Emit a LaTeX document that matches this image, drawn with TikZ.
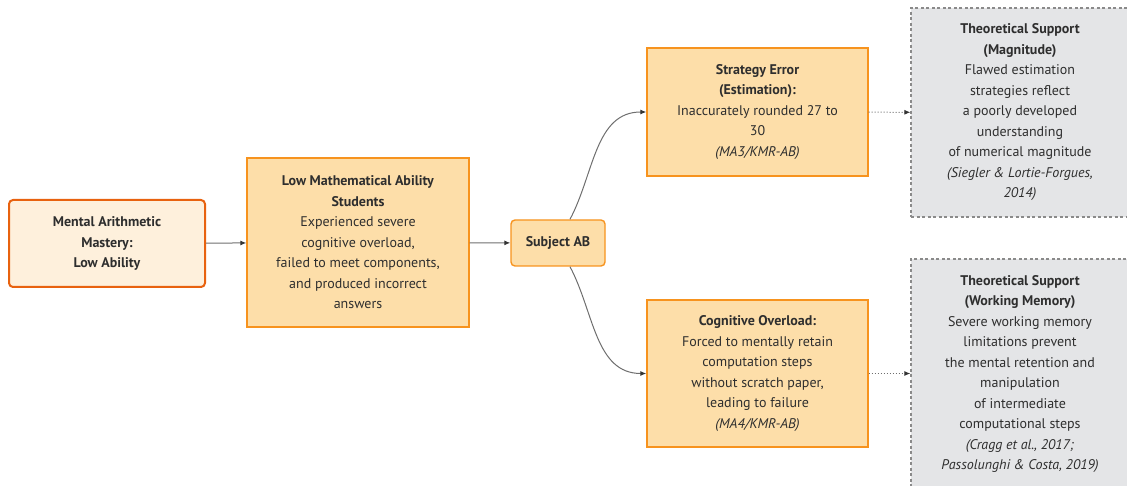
\documentclass[tikz,border=0pt]{standalone}
\usepackage{fontspec}
\setmainfont{PT Sans}
\usetikzlibrary{arrows.meta}
\definecolor{txt}{HTML}{2E2E2E}
\definecolor{rootline}{HTML}{E8620F}
\definecolor{rootfill}{HTML}{FEF0DC}
\definecolor{boxline}{HTML}{F7931E}
\definecolor{boxfill}{HTML}{FDDEA9}
\definecolor{supfill}{HTML}{E4E5E7}
\definecolor{supline}{HTML}{8A8A8A}
\definecolor{edge}{HTML}{6E6E6E}
\definecolor{tipc}{HTML}{333333}
\begin{document}
\begin{tikzpicture}[x=1pt,y=-1pt,
  every node/.style={font=\fontsize{14}{20.5}\selectfont, text=txt, align=center, inner sep=0pt},
  rootbox/.style={draw=rootline, fill=rootfill, line width=2pt, rounded corners=4pt},
  stepbox/.style={draw=boxline, fill=boxfill, line width=1.4pt},
  subjbox/.style={draw=boxline, fill=boxfill, line width=1.4pt, rounded corners=4pt},
  supbox/.style={draw=supline, fill=supfill, line width=1.2pt, dash pattern=on 3pt off 2.5pt},
  link/.style={draw=edge, line width=1pt, -{Latex[length=6pt,width=5pt,color=tipc]}},
  dlink/.style={draw=edge, line width=1pt, dotted, -{Latex[length=6pt,width=5pt,color=tipc]}}
]
\useasboundingbox (0,0) rectangle (1127,486);
\clip (0,0) rectangle (1127,486);

\node[rootbox, minimum width=196pt, minimum height=87pt] (A) at (107,243.5)
  {\textbf{Mental Arithmetic}\\\textbf{Mastery:}\\\textbf{Low Ability}};
\node[stepbox, minimum width=222pt, minimum height=169pt] (B) at (358,242.5)
  {\textbf{Low Mathematical Ability}\\\textbf{Students}\\Experienced severe\\cognitive overload,\\failed to meet components,\\and produced incorrect\\answers};
\node[subjbox, minimum width=94pt, minimum height=46pt] (C) at (558,243)
  {\textbf{Subject AB}};
\node[stepbox, minimum width=221pt, minimum height=128pt] (D) at (757.5,112)
  {\textbf{Strategy Error}\\\textbf{(Estimation):}\\Inaccurately rounded 27 to\\30\\\textit{(MA3/KMR-AB)}};
\node[stepbox, minimum width=221pt, minimum height=147pt] (E) at (757.5,373.5)
  {\textbf{Cognitive Overload:}\\Forced to mentally retain\\computation steps\\without scratch paper,\\leading to failure\\\textit{(MA4/KMR-AB)}};
\node[supbox, minimum width=218pt, minimum height=209pt] (F) at (1020,112.5)
  {\textbf{Theoretical Support}\\\textbf{(Magnitude)}\\Flawed estimation\\strategies reflect\\a poorly developed\\understanding\\of numerical magnitude\\\textit{(Siegler \& Lortie-Forgues,}\\\textit{2014)}};
\node[supbox, minimum width=218pt, minimum height=230pt] (G) at (1020,374)
  {\textbf{Theoretical Support}\\\textbf{(Working Memory)}\\Severe working memory\\limitations prevent\\the mental retention and\\manipulation\\of intermediate\\computational steps\\\textit{(Cragg et al., 2017;}\\\textit{Passolunghi \& Costa, 2019)}};

\coordinate (ct) at ([xshift=12pt]C.north);
\coordinate (cb) at ([xshift=12pt]C.south);

\draw[link] (A) -- (B);
\draw[link] (B) -- (C);
\draw[link] (ct) to[out=62,in=180] (D.west);
\draw[link] (cb) to[out=-62,in=180] (E.west);
\draw[dlink] (D) -- (F);
\draw[dlink] (E.east) -- (E.east -| F.west);
\end{tikzpicture}
\end{document}
